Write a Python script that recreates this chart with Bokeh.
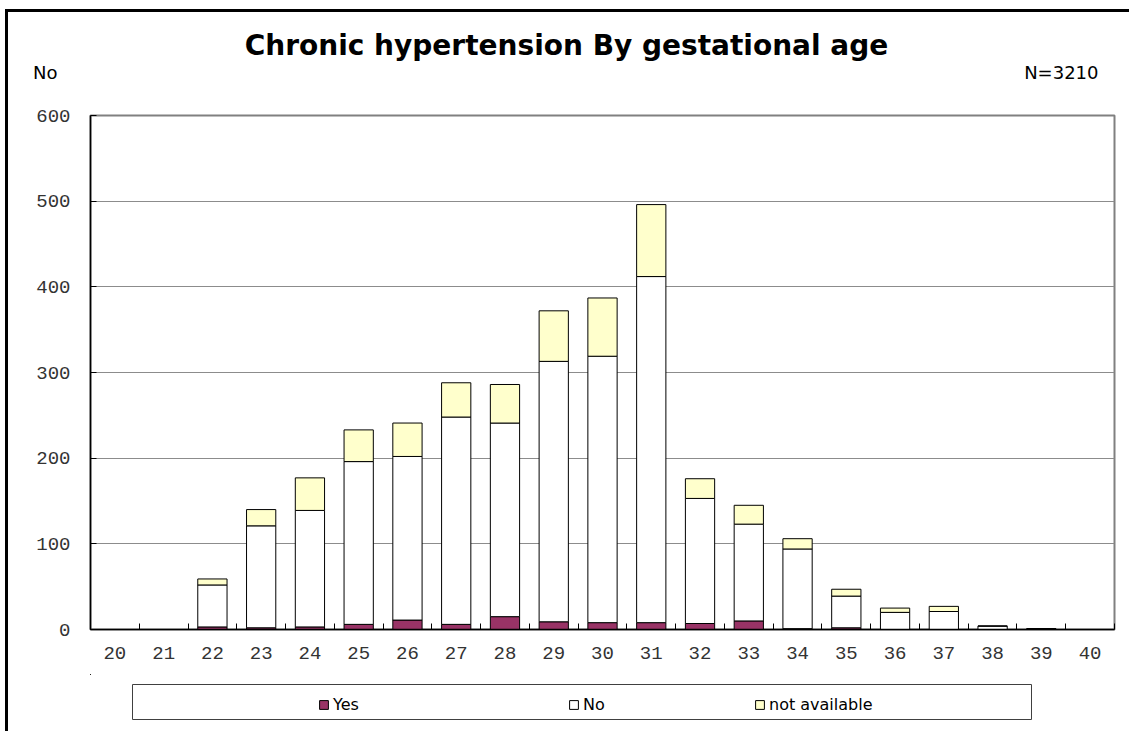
from bokeh.plotting import figure
from bokeh.layouts import column
from bokeh.models import (Range1d, FixedTicker, Label, Legend, LegendItem,
                          ColumnDataSource, BoxAnnotation)
from bokeh.embed import file_html
from bokeh.resources import INLINE

# ---------------- data ----------------
weeks = ["20", "21", "22", "23", "24", "25", "26", "27", "28", "29", "30",
         "31", "32", "33", "34", "35", "36", "37", "38", "39", "40"]
yes = [0, 0, 3, 2, 3, 6, 11, 6, 15, 9, 8, 8, 7, 10, 1, 2, 0, 0, 0, 0, 0]
no = [0, 0, 49, 119, 136, 190, 191, 242, 226, 304, 311, 404, 146, 113, 93, 37, 20, 21, 4, 1, 0]
not_available = [0, 0, 7, 19, 38, 37, 39, 40, 45, 59, 68, 84, 23, 22, 12, 8, 5, 6, 0, 0, 0]
y_ticks = [0, 100, 200, 300, 400, 500, 600]
series_names = ["Yes", "No", "not available"]
title_text = "Chronic hypertension By gestational age"
y_title = "No"
n_text = "N=3210"

# ---------------- style / layout ----------------
colors = ["#993366", "#FFFFFF", "#FFFFCC"]
PAGE_T = 12                      # content top inside the outer border
PAGE_B = 731                     # bottom of the window
TOP_H = 90                       # height of the heading strip
FRAME_W, FRAME_H = 1024, 514
BORDER_L, BORDER_R, BORDER_T, BORDER_B = 82, 15, 13, 45
FOOT_T = PAGE_T + TOP_H + BORDER_T + FRAME_H + BORDER_B
FOOT_H = PAGE_B - FOOT_T
FRAME_L = 8 + BORDER_L           # page x of the plotting frame
N = len(weeks)
Y_MAX = 600
TITLE_XY = (566, 45)
SUB_Y = 72
N_RIGHT = 1098
LEGEND_BOX = (132, 1031, 684, 719)   # left, right, top, bottom (page px)
KEY_X = [318, 568, 754]              # page x of each legend key
KEY_TOP = 696

# heading strip: data coordinates equal page pixels
head = figure(frame_width=FRAME_W, frame_height=TOP_H,
              x_range=Range1d(FRAME_L, FRAME_L + FRAME_W),
              y_range=Range1d(PAGE_T + TOP_H, PAGE_T),
              x_axis_location=None,
              output_backend="svg", toolbar_location=None,
              min_border_left=BORDER_L, min_border_right=BORDER_R,
              min_border_top=0, min_border_bottom=0, outline_line_color=None)
head.xgrid.visible = False
head.ygrid.visible = False
hy = head.yaxis[0]
hy.ticker = FixedTicker(ticks=[SUB_Y])
hy.major_label_overrides = {SUB_Y: y_title}
hy.axis_line_color = None
hy.major_tick_line_color = None
hy.minor_tick_line_color = None
hy.major_label_standoff = 27
hy.major_label_text_font = "DejaVu Sans"
hy.major_label_text_font_size = "18px"
hy.major_label_text_color = "black"

head.add_layout(Label(x=TITLE_XY[0], y=TITLE_XY[1], text=title_text, text_align="center",
                      text_baseline="middle", text_font="DejaVu Sans",
                      text_font_style="bold", text_font_size="28px",
                      text_color="black"))
head.add_layout(Label(x=N_RIGHT, y=SUB_Y, text=n_text, text_align="right",
                      text_baseline="middle", text_font="DejaVu Sans",
                      text_font_size="18px", text_color="black"))

# ---------------- main chart ----------------
x = [i + 0.5 for i in range(N)]
src = ColumnDataSource(dict(x=x, yes=yes, no=no, na=not_available))

p = figure(frame_width=FRAME_W, frame_height=FRAME_H,
           x_range=Range1d(0, N), y_range=Range1d(0, Y_MAX),
           output_backend="svg", toolbar_location=None,
           min_border_left=BORDER_L, min_border_right=BORDER_R,
           min_border_top=BORDER_T, min_border_bottom=BORDER_B)
p.outline_line_color = "#808080"
p.outline_line_width = 2

rs = p.vbar_stack(["yes", "no", "na"], x="x", width=0.6, fill_color=colors,
                  line_color="black", line_width=1, source=src)

# x axis: labels at centers, tick marks at category boundaries
xa = p.xaxis[0]
xa.ticker = FixedTicker(ticks=x, minor_ticks=list(range(0, N + 1)))
xa.major_label_overrides = {xi: w for xi, w in zip(x, weeks)}
xa.major_tick_in = 0
xa.major_tick_out = 0
xa.minor_tick_in = 6
xa.minor_tick_out = 0
xa.minor_tick_line_color = "black"
xa.axis_line_color = "black"
xa.axis_line_width = 1.5
xa.major_label_standoff = 17
xa.major_label_text_font = "Liberation Mono"
xa.major_label_text_font_size = "19px"
xa.major_label_text_color = "#333333"

ya = p.yaxis[0]
ya.ticker = FixedTicker(ticks=y_ticks)
ya.major_tick_in = 6
ya.major_tick_out = 0
ya.major_tick_line_color = "black"
ya.minor_tick_line_color = None
ya.axis_line_color = "black"
ya.axis_line_width = 1.5
ya.major_label_standoff = 20
ya.major_label_text_font = "Liberation Mono"
ya.major_label_text_font_size = "19px"
ya.major_label_text_color = "#333333"

p.xgrid.visible = False
p.ygrid.grid_line_color = "#8c8c8c"
p.ygrid.grid_line_width = 1

# ---------------- legend strip (data coordinates equal page pixels) ----------------
foot = figure(frame_width=FRAME_W, frame_height=FOOT_H,
              x_range=Range1d(FRAME_L, FRAME_L + FRAME_W),
              y_range=Range1d(PAGE_B, FOOT_T),
              x_axis_location=None, y_axis_location=None,
              output_backend="svg", toolbar_location=None,
              min_border_left=BORDER_L, min_border_right=BORDER_R,
              min_border_top=0, min_border_bottom=0, outline_line_color=None)
foot.xgrid.visible = False
foot.ygrid.visible = False
# legend keys share the series styling; their bars fall outside this strip's ranges
keys = foot.vbar_stack(["yes", "no", "na"], x="x", width=0.6, fill_color=colors,
                       line_color="black", line_width=1, source=src)

lb_left, lb_right, lb_top, lb_bottom = LEGEND_BOX
foot.add_layout(BoxAnnotation(left=lb_left, right=lb_right, top=lb_top, bottom=lb_bottom,
                              fill_color="white", fill_alpha=1, line_color="#404040",
                              line_width=1, line_alpha=1))

for name, r, kx in zip(series_names, keys, KEY_X):
    leg = Legend(items=[LegendItem(label=name, renderers=[r])],
                 orientation="horizontal",
                 location=(kx - FRAME_L, PAGE_B - (KEY_TOP + 18)),
                 margin=0, padding=0, border_line_color=None,
                 background_fill_alpha=0,
                 glyph_width=11, glyph_height=11, label_standoff=4,
                 label_height=11,
                 label_text_font="DejaVu Sans", label_text_font_size="16px",
                 label_text_color="black")
    foot.add_layout(leg)

layout = column(head, p, foot, spacing=0,
                styles={"border-left": "3px solid black", "border-top": "3px solid black",
                        "margin-left": "5px", "margin-top": "9px"})

open("out.html", "w").write(file_html(layout, INLINE))
